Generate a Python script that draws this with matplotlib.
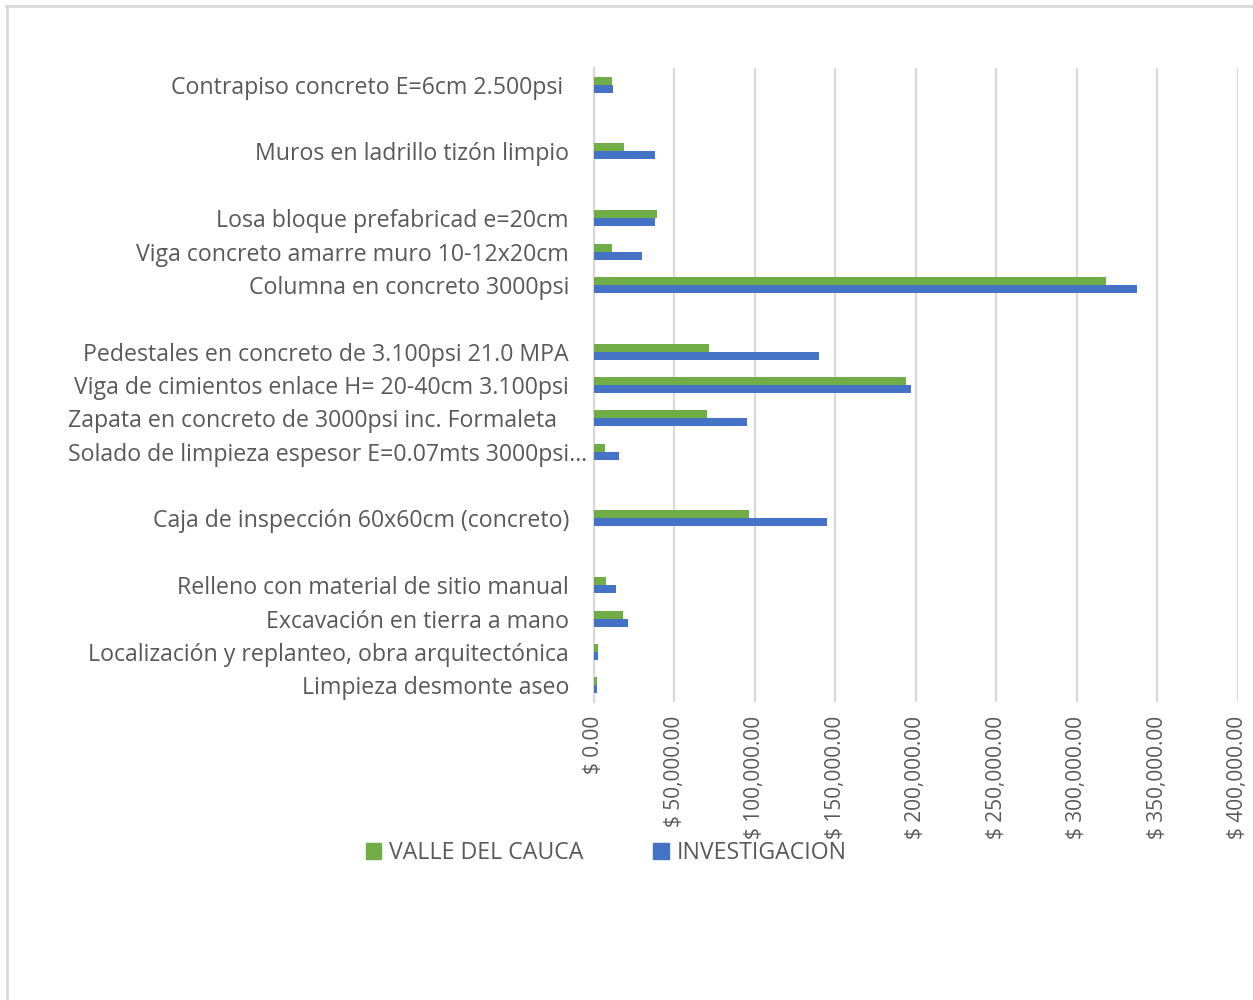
import matplotlib.pyplot as plt
from matplotlib.lines import Line2D
import numpy as np

# categorias de arriba hacia abajo ("" = fila vacia del grafico original)
categorias = [
    "Contrapiso concreto E=6cm 2.500psi    ",
    "",
    "Muros en ladrillo tizón limpio   ",
    "",
    "Losa bloque prefabricad e=20cm   ",
    "Viga concreto amarre muro 10-12x20cm   ",
    "Columna en concreto 3000psi   ",
    "",
    "Pedestales en concreto de 3.100psi 21.0 MPA   ",
    "Viga de cimientos enlace H= 20-40cm 3.100psi   ",
    "Zapata en concreto de 3000psi inc. Formaleta     ",
    "Solado de limpieza espesor E=0.07mts 3000psi…",
    "",
    "Caja de inspección 60x60cm (concreto)   ",
    "",
    "Relleno con material de sitio manual   ",
    "Excavación en tierra a mano   ",
    "Localización y replanteo, obra arquitectónica   ",
    "Limpieza desmonte aseo   ",
]

valle = [11200, 0, 18600, 0, 39100, 11200, 318000, 0, 71400, 193800, 70200,
         6800, 0, 96300, 0, 7500, 18000, 2500, 1900]
investigacion = [11800, 0, 37900, 0, 37900, 29800, 337200, 0, 139700, 196900,
                 95000, 15500, 0, 144700, 0, 13700, 21100, 2500, 1900]

ticks_x = [0, 50000, 100000, 150000, 200000, 250000, 300000, 350000, 400000]

verde = '#70ad47'
azul = '#4472c4'
gris = '#595959'
plt.rcParams['font.family'] = ['Open Sans', 'DejaVu Sans']

fig = plt.figure(figsize=(12.53, 10), dpi=100)
ax = fig.add_axes([0.474, 0.298, 0.514, 0.634])

n = len(categorias)
y = np.arange(n)
h = 0.24
ax.barh(y - h/2, valle, height=h, color=verde, zorder=3)
ax.barh(y + h/2, investigacion, height=h, color=azul, zorder=3)

ax.set_ylim(n - 0.5, -0.5)
ax.set_xlim(0, 400000)
ax.set_yticks(y)
ax.set_yticklabels(categorias, fontsize=16.7, color=gris)
ax.set_xticks(ticks_x)
ax.set_xticklabels(['$ {:,.2f}'.format(v) for v in ticks_x], rotation=90,
                   fontsize=15, color=gris, va='top', ha='center')
ax.tick_params(axis='both', length=0)
ax.tick_params(axis='y', pad=5)
ax.tick_params(axis='x', pad=10)

ax.grid(axis='x', color='#d9d9d9', linewidth=1.6, zorder=0)
for s in ['top', 'right', 'bottom']:
    ax.spines[s].set_visible(False)
ax.spines['left'].set_color('#d9d9d9')
ax.spines['left'].set_linewidth(1.6)

handles = [plt.Rectangle((0, 0), 1, 1, color=verde),
           plt.Rectangle((0, 0), 1, 1, color=azul)]
leg = fig.legend(handles, ['VALLE DEL CAUCA', 'INVESTIGACION'], ncol=2,
                 loc='center', bbox_to_anchor=(0.484, 0.147), frameon=False,
                 fontsize=16.7, handlelength=0.65, handleheight=0.65,
                 handletextpad=0.35, columnspacing=3.0)
for t in leg.get_texts():
    t.set_color(gris)

# borde del area del grafico
fig.add_artist(Line2D([0.005, 1.0], [0.994, 0.994], color='#d9d9d9', lw=2, transform=fig.transFigure))
fig.add_artist(Line2D([0.0055, 0.0055], [0.0, 0.994], color='#d9d9d9', lw=2, transform=fig.transFigure))

fig.savefig('out.png', dpi=100)
